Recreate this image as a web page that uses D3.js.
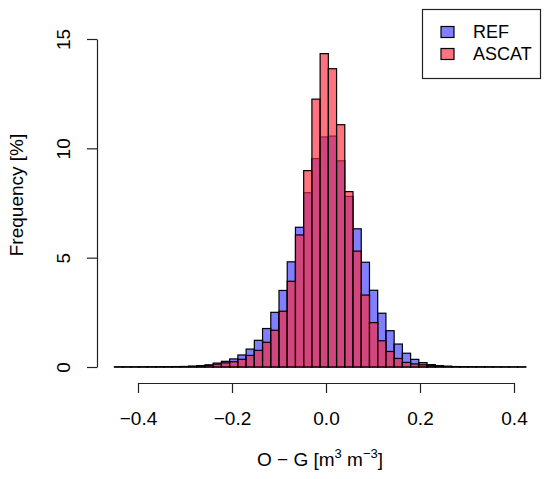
<!DOCTYPE html>
<html>
<head>
<meta charset="utf-8">
<script src="https://cdn.jsdelivr.net/npm/d3@7"></script>
<style>
  body { margin: 0; background: #fff; }
  text { font-family: "Liberation Sans", Arial, Helvetica, sans-serif; fill: #000; }
</style>
</head>
<body>
<script>
// histogram of O-G, 50 bins from -0.45 in steps of 0.0175
var binStart = -0.45;
var binWidth = 0.0175;

// frequency [%] per bin
var refFreq = [0.005, 0.005, 0.006, 0.008, 0.01, 0.012, 0.015, 0.02, 0.025, 0.04,
  0.06, 0.1, 0.18, 0.26, 0.37, 0.55, 0.82, 1.22, 1.76, 2.5,
  3.5, 4.81, 6.39, 7.97, 9.53, 10.52, 10.56, 9.43, 7.8, 6.32,
  4.79, 3.51, 2.46, 1.66, 1.05, 0.63, 0.35, 0.2, 0.11, 0.06,
  0.035, 0.02, 0.015, 0.01, 0.008, 0.006, 0.005, 0.004, 0.003, 0.003];

var ascatFreq = [0.003, 0.003, 0.004, 0.005, 0.006, 0.008, 0.01, 0.013, 0.018, 0.025,
  0.04, 0.07, 0.13, 0.19, 0.24, 0.35, 0.53, 0.76, 1.13, 1.68,
  2.55, 3.92, 6.04, 8.98, 12.25, 14.33, 13.64, 11.08, 8.02, 5.3,
  3.29, 2.03, 1.2, 0.71, 0.39, 0.21, 0.14, 0.1, 0.06, 0.04,
  0.025, 0.015, 0.01, 0.008, 0.006, 0.005, 0.004, 0.003, 0.003, 0.002];

var seriesNames = ["REF", "ASCAT"];
var xTicks = [-0.4, -0.2, 0, 0.2, 0.4];
var yTicks = [0, 5, 10, 15];

var svgWidth = 550;
var svgHeight = 479;
var colors = ["rgba(0,0,255,0.5)", "rgba(255,40,60,0.65)"];

var svg = d3.select("body")
  .append("svg")
  .attr("width", svgWidth)
  .attr("height", svgHeight);

var xScale = d3.scaleLinear()
  .domain([-0.4, 0.4])
  .range([138, 514]);

var yScale = d3.scaleLinear()
  .domain([0, 15])
  .range([367, 39]);

// bars, REF first then ASCAT on top
[refFreq, ascatFreq].forEach(function (series, k) {
  svg.append("g")
    .selectAll("rect")
    .data(series)
    .enter()
    .append("rect")
    .attr("x", (d, i) => xScale(binStart + i * binWidth))
    .attr("width", xScale(binWidth) - xScale(0))
    .attr("y", d => yScale(d))
    .attr("height", d => yScale(0) - yScale(d))
    .attr("fill", colors[k])
    .attr("stroke", "#000")
    .attr("stroke-width", 1.2);
});

// x axis
var xAxis = svg.append("g")
  .attr("transform", "translate(0,383)")
  .call(d3.axisBottom(xScale)
    .tickValues(xTicks)
    .tickSize(10)
    .tickSizeOuter(0)
    .tickFormat(d3.format(".1f")));

xAxis.selectAll("text")
  .attr("y", 42)
  .attr("dy", 0)
  .style("font-size", "19px");

// y axis
var yAxis = svg.append("g")
  .attr("transform", "translate(97,0)")
  .call(d3.axisLeft(yScale)
    .tickValues(yTicks)
    .tickSize(10)
    .tickSizeOuter(0));

yAxis.selectAll("text")
  .attr("transform", "rotate(-90)")
  .attr("x", 0)
  .attr("y", -27)
  .attr("dy", 0)
  .attr("text-anchor", "middle")
  .style("font-size", "19px");

svg.selectAll(".domain, .tick line")
  .attr("stroke", "#222")
  .attr("stroke-width", 1.2);

// axis titles
var xTitle = svg.append("text")
  .attr("x", 320)
  .attr("y", 466)
  .attr("text-anchor", "middle")
  .style("font-size", "19px");
xTitle.append("tspan").text("O \u2212 G [m");
xTitle.append("tspan").attr("dy", -8).style("font-size", "13px").text("3");
xTitle.append("tspan").attr("dy", 8).text(" m");
xTitle.append("tspan").attr("dy", -8).style("font-size", "13px").text("\u22123");
xTitle.append("tspan").attr("dy", 8).text("]");

svg.append("text")
  .attr("transform", "rotate(-90)")
  .attr("x", -195)
  .attr("y", 23)
  .attr("text-anchor", "middle")
  .style("font-size", "19px")
  .text("Frequency [%]");

// legend
var legend = svg.append("g");
legend.append("rect")
  .attr("x", 422.5)
  .attr("y", 9.5)
  .attr("width", 118)
  .attr("height", 69)
  .attr("fill", "#fff")
  .attr("stroke", "#222")
  .attr("stroke-width", 1.2);

seriesNames.forEach(function (name, k) {
  var cy = 32 + k * 22;
  legend.append("rect")
    .attr("x", 441)
    .attr("y", cy - 5.5)
    .attr("width", 13)
    .attr("height", 11)
    .attr("fill", colors[k])
    .attr("stroke", "#000")
    .attr("stroke-width", 1.2);
  legend.append("text")
    .attr("x", 473)
    .attr("y", cy)
    .attr("dy", "0.36em")
    .style("font-size", "18px")
    .text(name);
});
</script>
</body>
</html>
